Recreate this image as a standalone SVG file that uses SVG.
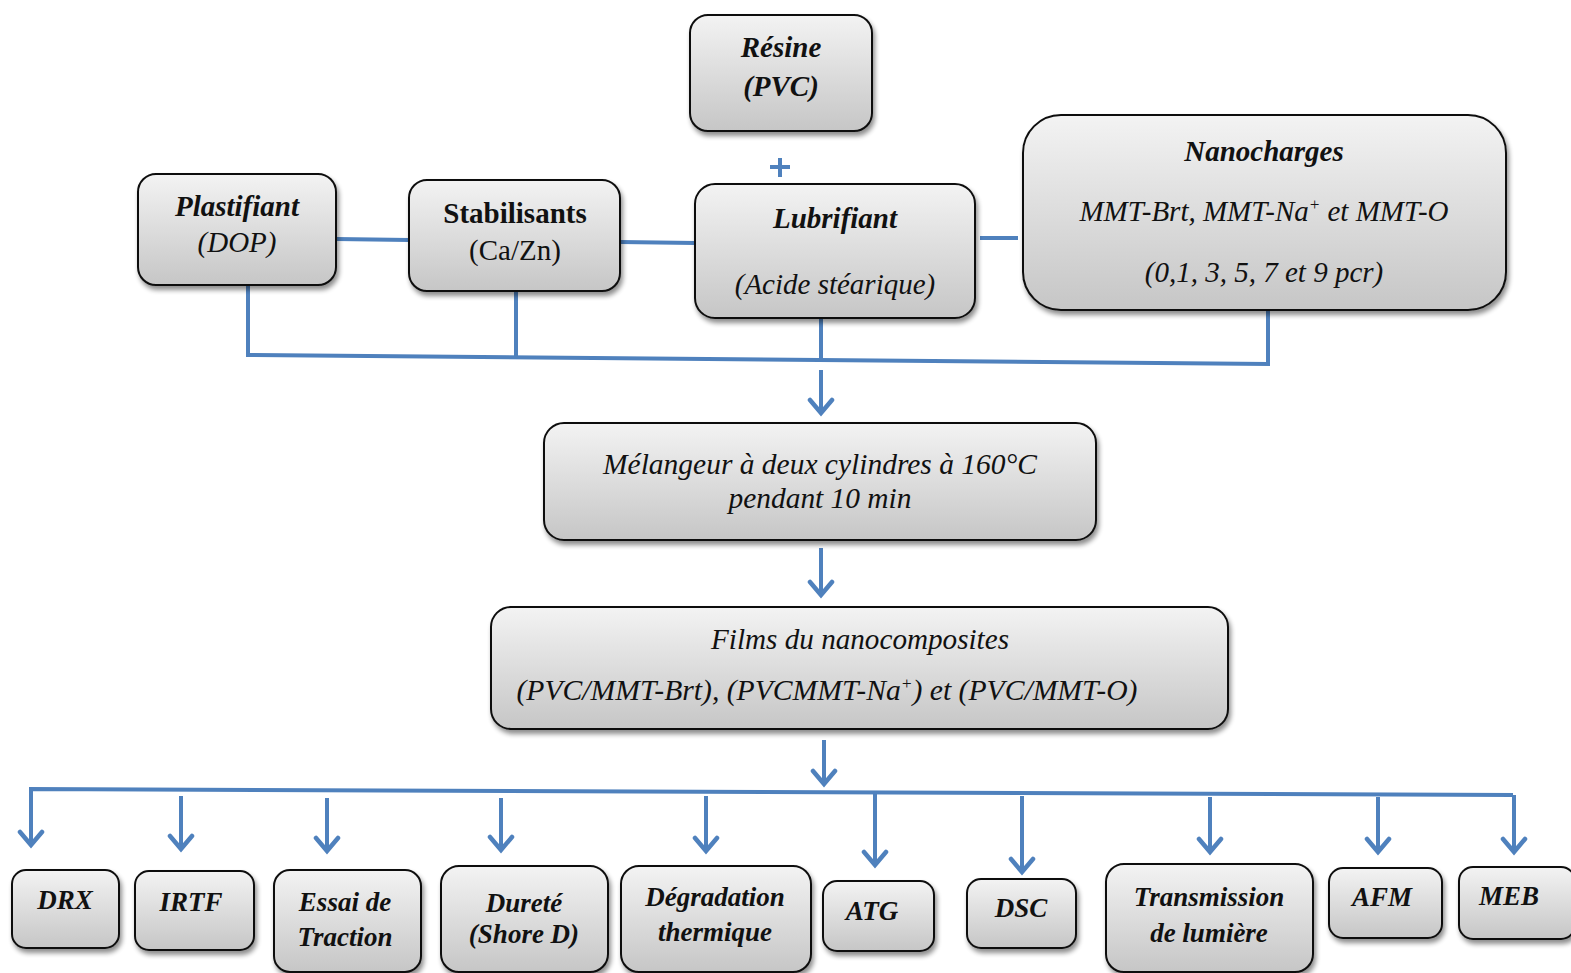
<svg xmlns="http://www.w3.org/2000/svg" width="1571" height="973" viewBox="0 0 1571 973">
  <defs>
    <linearGradient id="boxFill" x1="0" y1="0" x2="0" y2="1">
      <stop offset="0" stop-color="#f3f3f3"/>
      <stop offset="1" stop-color="#c6c6c6"/>
    </linearGradient>
    <filter id="shadow" x="-10%" y="-10%" width="125%" height="130%">
      <feGaussianBlur in="SourceAlpha" stdDeviation="2.5"/>
      <feOffset dx="2" dy="4" result="b"/>
      <feComponentTransfer><feFuncA type="linear" slope="0.45"/></feComponentTransfer>
      <feMerge><feMergeNode/><feMergeNode in="SourceGraphic"/></feMerge>
    </filter>
    <!-- open chevron head, drawn along +x so orient="auto" points it down the line -->
    <marker id="arrow" viewBox="0 0 20 28" refX="17" refY="14" markerWidth="20" markerHeight="28" markerUnits="userSpaceOnUse" orient="auto">
      <path d="M3,3 L16,14 L3,25" fill="none" stroke="#4f81bd" stroke-width="4.5" stroke-linecap="round" stroke-linejoin="miter"/>
    </marker>
  </defs>
  <style>
    .box { fill: url(#boxFill); stroke: #111; stroke-width: 2; filter: url(#shadow); }
    .line { fill: none; stroke: #4f81bd; stroke-width: 4; }
    .arr { fill: none; stroke: #4f81bd; stroke-width: 4; }
    text { font-family: "Liberation Serif", "Times New Roman", serif; fill: #111; text-anchor: middle; }
    .bi { font-weight: bold; font-style: italic; font-size: 29px; }
    .i { font-style: italic; font-size: 29px; }
    .b { font-weight: bold; font-size: 29px; }
    .r { font-size: 29px; }
    .ci { font-style: italic; font-size: 29px; }
    .sm { font-weight: bold; font-style: italic; font-size: 27px; }
  </style>

  <rect width="1571" height="973" fill="#ffffff"/>

  <!-- connectors -->
  <g id="connectors">
    <path class="line" d="M336,239 L409,240"/>
    <path class="line" d="M620,242 L695,243"/>
    <path class="line" d="M980,238 L1018,238"/>
    <path class="line" d="M780,158 V177 M770,167 H790"/>
    <path class="line" d="M248,285 V355 L1268,364 V310"/>
    <path class="line" d="M516,291 V357"/>
    <path class="line" d="M821,318 V361"/>
    <path class="arr" d="M821,370 V414" marker-end="url(#arrow)"/>
    <path class="arr" d="M821,548 V596" marker-end="url(#arrow)"/>
    <path class="arr" d="M824,740 V785" marker-end="url(#arrow)"/>
    <path class="line" d="M31,800 V789 L1513,795"/>
    <path class="arr" d="M31,798 V846" marker-end="url(#arrow)"/>
    <path class="arr" d="M181,796 V850" marker-end="url(#arrow)"/>
    <path class="arr" d="M327,798 V852" marker-end="url(#arrow)"/>
    <path class="arr" d="M501,798 V851" marker-end="url(#arrow)"/>
    <path class="arr" d="M706,796 V852" marker-end="url(#arrow)"/>
    <path class="arr" d="M875,794 V866" marker-end="url(#arrow)"/>
    <path class="arr" d="M1022,796 V873" marker-end="url(#arrow)"/>
    <path class="arr" d="M1210,797 V853" marker-end="url(#arrow)"/>
    <path class="arr" d="M1378,797 V853" marker-end="url(#arrow)"/>
    <path class="arr" d="M1514,795 V853" marker-end="url(#arrow)"/>
  </g>

  <!-- ingredient nodes -->
  <g id="resine">
    <rect class="box" x="690" y="15" width="182" height="116" rx="18"/>
    <text class="bi" x="781" y="57">Résine</text>
    <text class="bi" x="781" y="96">(PVC)</text>
  </g>
  <g id="plastifiant">
    <rect class="box" x="138" y="174" width="198" height="111" rx="18"/>
    <text class="bi" x="237" y="216">Plastifiant</text>
    <text class="i" x="237" y="252">(DOP)</text>
  </g>
  <g id="stabilisants">
    <rect class="box" x="409" y="180" width="211" height="111" rx="18"/>
    <text class="b" x="515" y="223">Stabilisants</text>
    <text class="r" x="515" y="260">(Ca/Zn)</text>
  </g>
  <g id="lubrifiant">
    <rect class="box" x="695" y="184" width="280" height="134" rx="20"/>
    <text class="bi" x="835" y="228">Lubrifiant</text>
    <text class="i" x="835" y="294">(Acide stéarique)</text>
  </g>
  <g id="nanocharges">
    <rect class="box" x="1023" y="115" width="483" height="195" rx="38"/>
    <text class="bi" x="1264" y="161">Nanocharges</text>
    <text class="i" x="1264" y="221">MMT-Brt, MMT-Na<tspan font-size="17" dy="-11">+</tspan><tspan dy="11"> et MMT-O</tspan></text>
    <text class="i" x="1264" y="282">(0,1, 3, 5, 7 et 9 pcr)</text>
  </g>

  <!-- process nodes -->
  <g id="melangeur">
    <rect class="box" x="544" y="423" width="552" height="117" rx="20"/>
    <text class="ci" x="820" y="474" textLength="434" lengthAdjust="spacingAndGlyphs">Mélangeur à deux cylindres à 160°C</text>
    <text class="ci" x="820" y="508" textLength="183" lengthAdjust="spacingAndGlyphs">pendant 10 min</text>
  </g>
  <g id="films">
    <rect class="box" x="491" y="607" width="737" height="122" rx="20"/>
    <text class="ci" x="860" y="649" textLength="298" lengthAdjust="spacingAndGlyphs">Films du nanocomposites</text>
    <text class="ci" x="827" y="700" textLength="621" lengthAdjust="spacingAndGlyphs">(PVC/MMT-Brt), (PVCMMT-Na<tspan font-size="17" dy="-11">+</tspan><tspan dy="11">) et (PVC/MMT-O)</tspan></text>
  </g>

  <!-- characterisation nodes -->
  <g id="drx">
    <rect class="box" x="12" y="870" width="107" height="78" rx="14"/>
    <text class="sm" x="65" y="909">DRX</text>
  </g>
  <g id="irtf">
    <rect class="box" x="135" y="871" width="119" height="79" rx="14"/>
    <text class="sm" x="191" y="911">IRTF</text>
  </g>
  <g id="essai">
    <rect class="box" x="274" y="870" width="147" height="102" rx="16"/>
    <text class="sm" x="345" y="911">Essai de</text>
    <text class="sm" x="345" y="946">Traction</text>
  </g>
  <g id="durete">
    <rect class="box" x="441" y="866" width="167" height="106" rx="18"/>
    <text class="sm" x="524" y="912">Dureté</text>
    <text class="sm" x="524" y="943">(Shore D)</text>
  </g>
  <g id="degradation">
    <rect class="box" x="621" y="866" width="190" height="106" rx="18"/>
    <text class="sm" x="715" y="906">Dégradation</text>
    <text class="sm" x="715" y="941">thermique</text>
  </g>
  <g id="atg">
    <rect class="box" x="823" y="881" width="111" height="70" rx="14"/>
    <text class="sm" x="872" y="920">ATG</text>
  </g>
  <g id="dsc">
    <rect class="box" x="967" y="879" width="109" height="69" rx="14"/>
    <text class="sm" x="1021" y="917">DSC</text>
  </g>
  <g id="transmission">
    <rect class="box" x="1106" y="864" width="207" height="108" rx="18"/>
    <text class="sm" x="1209" y="906">Transmission</text>
    <text class="sm" x="1209" y="942">de lumière</text>
  </g>
  <g id="afm">
    <rect class="box" x="1329" y="868" width="113" height="70" rx="14"/>
    <text class="sm" x="1382" y="906">AFM</text>
  </g>
  <g id="meb">
    <rect class="box" x="1459" y="867" width="116" height="72" rx="14"/>
    <text class="sm" x="1509" y="905">MEB</text>
  </g>
</svg>
